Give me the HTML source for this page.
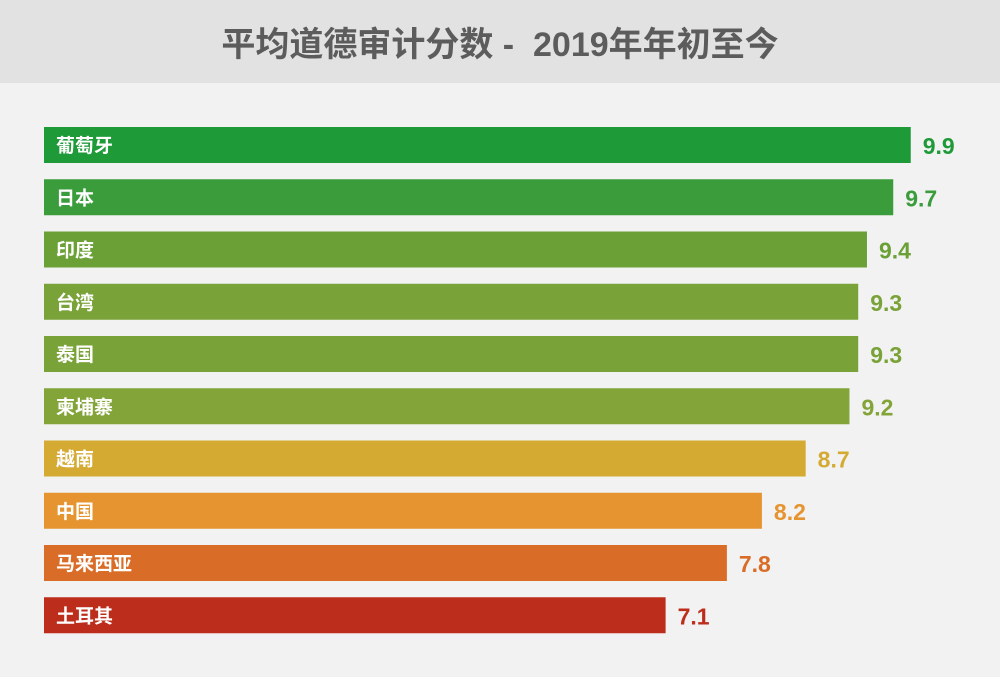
<!DOCTYPE html>
<html><head><meta charset="utf-8"><style>
body{margin:0;width:1000px;height:677px;background:#f2f2f2;overflow:hidden;font-family:"Liberation Sans","Noto Sans CJK SC",sans-serif}
#title{position:absolute;left:0;top:0;width:1000px;height:83px;background:#e2e2e3;color:#5c5c5c;font-size:34px;font-weight:bold;text-align:center;line-height:90px}
</style></head><body>
<div id="title">平均道德审计分数 -&nbsp; 2019年年初至今</div>
<svg id="chart" width="1000" height="677" style="position:absolute;left:0;top:0"></svg>
<script>
const categories=["葡萄牙","日本","印度","台湾","泰国","柬埔寨","越南","中国","马来西亚","土耳其"];
const values=[9.9,9.7,9.4,9.3,9.3,9.2,8.7,8.2,7.8,7.1];
const colors=["#1f9a39","#3a9c3a","#6aa035","#79a338","#79a338","#83a439","#d4aa33","#e5942f","#d96c27","#bc2d1b"];
const x0=44, pxPerUnit=87.55;
const xScale=v=>v*pxPerUnit;
const yScale=i=>127+i*52.25;
const barH=36;
const svg=document.getElementById('chart');
const NS='http://www.w3.org/2000/svg';
categories.forEach((c,i)=>{
  const y=yScale(i), w=xScale(values[i]);
  const r=document.createElementNS(NS,'rect');
  r.setAttribute('x',x0);r.setAttribute('y',y);r.setAttribute('width',w);r.setAttribute('height',barH);r.setAttribute('fill',colors[i]);
  
  
  svg.appendChild(r);
  const t=document.createElementNS(NS,'text');
  t.setAttribute('x',x0+12);t.setAttribute('y',y+barH/2+7);t.setAttribute('fill','#fff');t.setAttribute('font-size','19');t.setAttribute('font-weight','bold');
  t.textContent=c;
  
  
  svg.appendChild(t);
  const v=document.createElementNS(NS,'text');
  v.setAttribute('x',x0+w+12);v.setAttribute('y',y+barH/2+9);v.setAttribute('fill',colors[i]);v.setAttribute('font-size','23');v.setAttribute('font-weight','bold');
  v.textContent=values[i].toFixed(1);
  
  
  svg.appendChild(v);
});
</script>
</body></html>
